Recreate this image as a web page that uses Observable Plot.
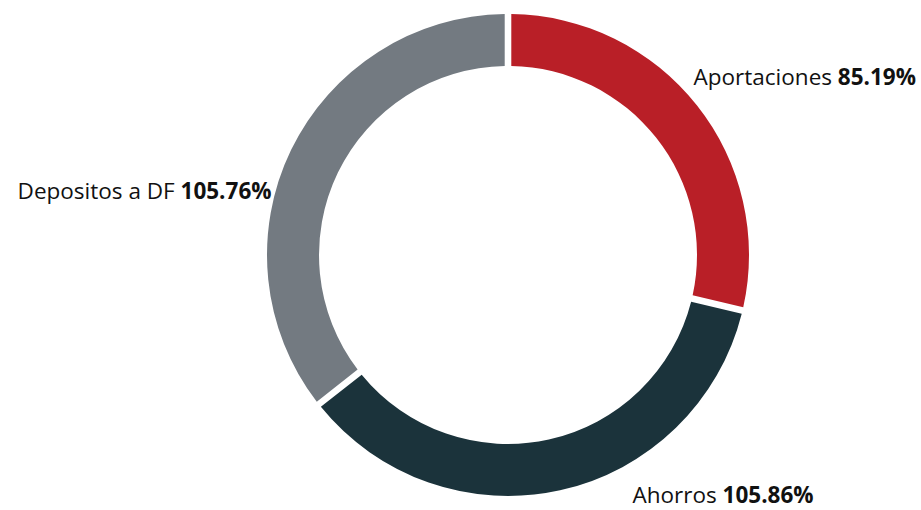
<!DOCTYPE html>
<html><head><meta charset="utf-8">
<script src="https://cdn.jsdelivr.net/npm/d3@7"></script>
<script src="https://cdn.jsdelivr.net/npm/@observablehq/plot@0.6"></script>
<style>body{margin:0;background:#fff}</style>
</head><body><div id="chart"></div>
<script>
const categories = ["Aportaciones", "Ahorros", "Depositos a DF"];
const values = [85.19, 105.86, 105.76];
const valueLabels = ["85.19%", "105.86%", "105.76%"];
const colors = ["#B91F27", "#1B333B", "#737A81"];

const W = 921, H = 510, cx = 508, cy = 255;
const Ro = 241, Ri = 189, Rl = 250;

const data = categories.map((c, i) => ({category: c, value: values[i], label: valueLabels[i]}));
const arcs = d3.pie().sort(null).value(d => d.value)(data);
const labelData = arcs.map(a => {
  const m = (a.startAngle + a.endAngle) / 2;
  return {category: a.data.category, text: a.data.category + " " + a.data.label,
          x: Rl * Math.sin(m), y: -Rl * Math.cos(m)};
});

function donut(index, scales) {
  const x0 = scales.x(0), y0 = scales.y(0), k = scales.x(1) - scales.x(0);
  const arc = d3.arc().innerRadius(Ri * k).outerRadius(Ro * k).padAngle(0.066).padRadius(100);
  const g = d3.create("svg:g").attr("transform", `translate(${x0},${y0})`);
  g.selectAll("path").data(arcs).join("path")
    .attr("d", arc)
    .attr("fill", d => scales.color(d.data.category));
  return g.node();
}

const textStyle = {fontSize: 22.5, fill: "#111", text: "text", x: "x", y: "y"};
const chart = Plot.plot({
  width: W, height: H, margin: 0,
  style: {fontFamily: "'Open Sans', sans-serif", background: "#fff"},
  x: {domain: [-cx, W - cx], range: [0, W], axis: null},
  y: {domain: [-cy, H - cy], range: [0, H], axis: null},
  color: {domain: categories, range: colors},
  marks: [
    donut,
    Plot.text(labelData.filter(d => d.category === "Aportaciones"), {...textStyle, textAnchor: "start", dx: -11, dy: -23}),
    Plot.text(labelData.filter(d => d.category === "Ahorros"), {...textStyle, textAnchor: "start", dx: 70, dy: -4}),
    Plot.text(labelData.filter(d => d.category === "Depositos a DF"), {...textStyle, textAnchor: "end", dx: -12, dy: 45})
  ]
});

d3.select(chart).selectAll("text").each(function() {
  const t = d3.select(this);
  const s = t.text();
  const i = s.lastIndexOf(" ");
  if (i < 0) return;
  t.text(null);
  t.append("tspan").text(s.slice(0, i + 1));
  t.append("tspan").attr("font-weight", "bold").text(s.slice(i + 1));
});

document.getElementById("chart").appendChild(chart);
</script>
</body></html>
